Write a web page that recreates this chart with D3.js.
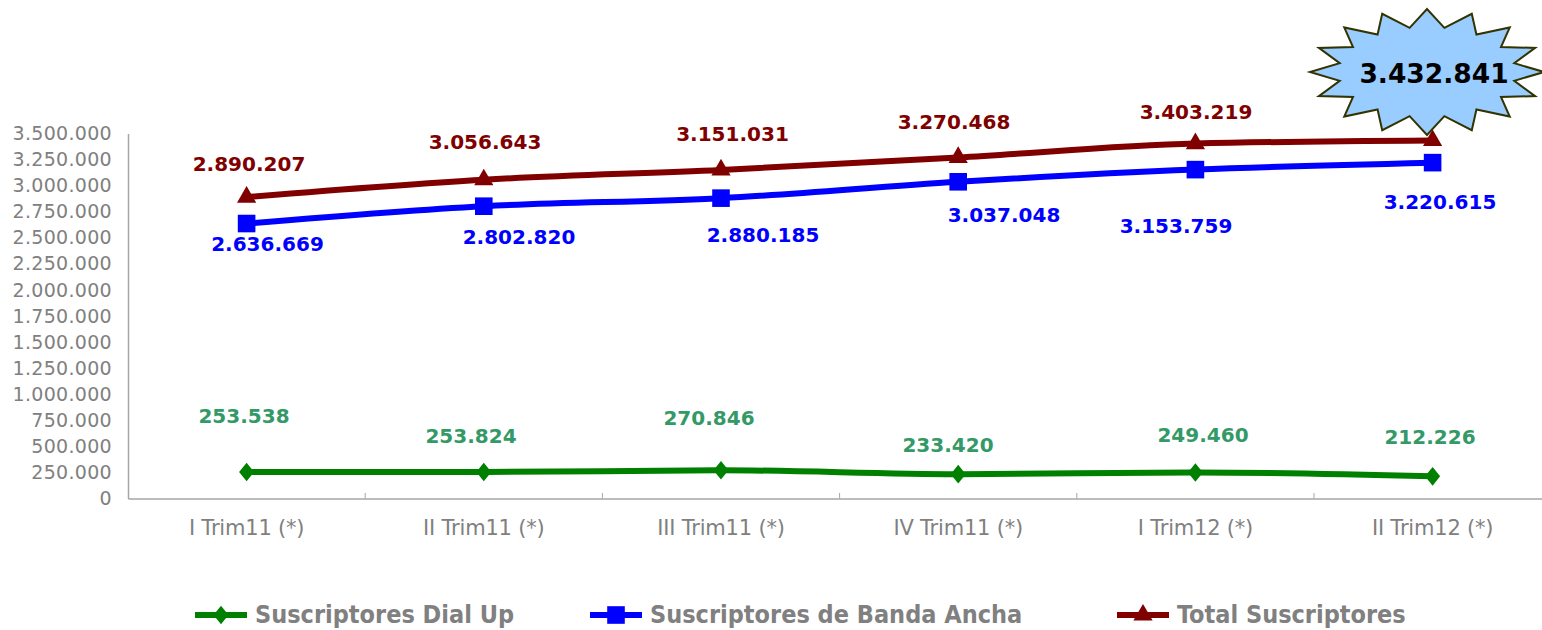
<!DOCTYPE html>
<html><head><meta charset="utf-8">
<script src="https://cdn.jsdelivr.net/npm/d3@7"></script>
<style>body{margin:0;background:#fff}svg{display:block}</style>
</head><body>
<script>
const categories = ["I Trim11 (*)","II Trim11 (*)","III Trim11 (*)","IV Trim11 (*)","I Trim12 (*)","II Trim12 (*)"];
const dialUp = [253538,253824,270846,233420,249460,212226];
const bandaAncha = [2636669,2802820,2880185,3037048,3153759,3220615];
const total = [2890207,3056643,3151031,3270468,3403219,3432841];
const yTicks = [0,250000,500000,750000,1000000,1250000,1500000,1750000,2000000,2250000,2500000,2750000,3000000,3250000,3500000];
const seriesNames = ["Suscriptores Dial Up","Suscriptores de Banda Ancha","Total Suscriptores"];
const highlightValue = 3432841;

// label offsets in px (styling only)
const dialOff = [[-2.6,-55.6],[-12.8,-36.5],[-12,-51.8],[-10.2,-28.7],[7.6,-37],[-2.6,-38.9]];
const bandOff = [[20.9,20.3],[35.2,30.3],[42,36.4],[45.8,33.7],[-19.4,55.9],[7.4,38.9]];
const totOff = [[2.4,-33.3],[1.2,-38.2],[11.5,-35.4],[-4.2,-35.2],[0.6,-31.4]];

const W=1542,H=630;
const fmt = v => d3.format(",")(v).replace(/,/g,".");
const svg = d3.select("body").append("svg").attr("width",W).attr("height",H);

const x = d3.scaleBand().domain(categories).range([128,1551.2]);
const xc = c => x(c)+x.bandwidth()/2;
const y = d3.scaleLinear().domain([0,3500000]).range([498.5,133.5]);

// axes
const gy = svg.append("g").attr("transform","translate(128,0)")
  .call(d3.axisLeft(y).tickValues(yTicks).tickSize(0).tickPadding(16).tickFormat(fmt));
gy.select(".domain").attr("stroke","#a6a6a6").attr("stroke-width",1.5);
gy.selectAll("text").attr("fill","#808080").style("font-family","DejaVu Sans").style("font-size","19px").style("letter-spacing","0.3px");

const gx = svg.append("g").attr("transform","translate(0,498.5)")
  .call(d3.axisBottom(x).tickSize(0).tickPadding(22));
gx.select(".domain").attr("stroke","#a6a6a6").attr("stroke-width",1.5);
gx.selectAll("text").attr("fill","#808080").style("font-family","DejaVu Sans").style("font-size","21px").style("letter-spacing","-0.2px");
// tick marks between categories
svg.append("g").selectAll("line").data(categories.slice(1)).join("line")
  .attr("x1",d=>x(d)).attr("x2",d=>x(d)).attr("y1",493).attr("y2",498.5)
  .attr("stroke","#a6a6a6").attr("stroke-width",1);

const line = d3.line().x((d,i)=>xc(categories[i])).y(d=>y(d)).curve(d3.curveMonotoneX);

const series = [
  {vals:dialUp,color:"#008000",labelColor:"#339966",marker:"diamond",off:dialOff},
  {vals:bandaAncha,color:"#0000ff",labelColor:"#0000ff",marker:"square",off:bandOff},
  {vals:total,color:"#800000",labelColor:"#800000",marker:"triangle",off:totOff}
];
const sym = {diamond:d3.symbol().type(d3.symbolDiamond).size(100),
             square:d3.symbol().type(d3.symbolSquare).size(310),
             triangle:d3.symbol().type(d3.symbolTriangle).size(160)};
const tf = m => m==="diamond" ? " scale(1.4,1)" : "";

series.forEach(s=>{
  svg.append("path").attr("d",line(s.vals)).attr("fill","none").attr("stroke",s.color).attr("stroke-width",6);
  svg.append("g").selectAll("path").data(s.vals).join("path")
    .attr("transform",(d,i)=>`translate(${xc(categories[i])},${y(d)})${tf(s.marker)}`)
    .attr("d",sym[s.marker]).attr("fill",s.color);
});
series.forEach(s=>{
  svg.append("g").selectAll("text").data(s.vals.slice(0,s.off.length)).join("text")
    .attr("x",(d,i)=>xc(categories[i])+s.off[i][0])
    .attr("y",(d,i)=>y(d)+s.off[i][1])
    .attr("text-anchor","middle").attr("dominant-baseline","central")
    .attr("fill",s.labelColor).style("font-family","DejaVu Sans").style("font-weight","bold").style("font-size","20px")
    .text(fmt);
});

// starburst
const cx=1427, cy=72, n=16, rxO=117, ryO=63, rxI=89, ryI=45;
const pts=[];
for(let k=0;k<2*n;k++){
  const a = -Math.PI/2 + k*Math.PI/n + Math.PI/n;
  const o = k%2===1;
  pts.push([cx+(o?rxO:rxI)*Math.cos(a), cy+(o?ryO:ryI)*Math.sin(a)]);
}
svg.append("path").attr("d","M"+pts.map(p=>p.join(",")).join("L")+"Z")
  .attr("fill","#99ccff").attr("stroke","#333300").attr("stroke-width",2);
svg.append("text").attr("x",cx+7).attr("y",cy+1).attr("text-anchor","middle").attr("dominant-baseline","central")
  .style("font-family","DejaVu Sans").style("font-weight","bold").style("font-size","26.5px").attr("fill","#000")
  .text(fmt(highlightValue));

// legend
const legX=[195,590,1117];
const lg = svg.append("g");
series.forEach((s,i)=>{
  const g = lg.append("g").attr("transform",`translate(${legX[i]},615)`);
  g.append("line").attr("x1",0).attr("x2",52).attr("stroke",s.color).attr("stroke-width",6);
  g.append("path").attr("transform",`translate(26,0)${tf(s.marker)}`).attr("d",sym[s.marker]).attr("fill",s.color);
  g.append("text").attr("x",60).attr("y",-1).attr("dominant-baseline","central")
    .attr("fill","#808080").style("font-family","DejaVu Sans Condensed").style("font-weight","bold").style("font-size","25px")
    .text(seriesNames[i]);
});
</script>
</body></html>
